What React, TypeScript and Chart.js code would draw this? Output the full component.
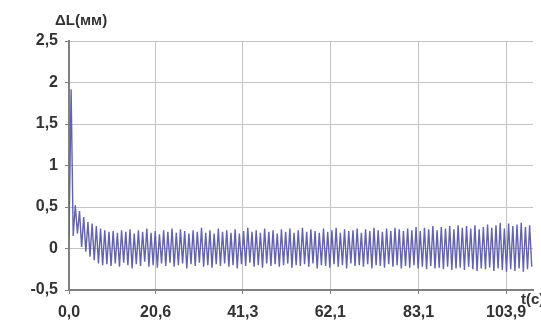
import React, { useEffect, useRef } from "react";
import { Chart, registerables } from "chart.js";

Chart.register(...registerables);

// Sampling step of the recorded signal (seconds)
const SAMPLE_STEP = 0.5;

// ΔL (mm) samples, one every SAMPLE_STEP seconds starting at t = 0
const DELTA_L: number[] = [
  0.12, 1.92, 0.15, 0.52, 0.18, 0.45, 0.02, 0.38, -0.04, 0.32, -0.10, 0.30, -0.14, 0.27, -0.18, 0.24, -0.20, 0.22, -0.19, 0.20,
  -0.21, 0.21, -0.18, 0.19, -0.22, 0.22, -0.17, 0.20, -0.20, 0.23, -0.24, 0.18, -0.19, 0.22, -0.21, 0.20, -0.16, 0.24, -0.22, 0.19,
  -0.20, 0.21, -0.23, 0.17, -0.18, 0.22, -0.21, 0.20, -0.17, 0.24, -0.22, 0.19, -0.20, 0.23, -0.18, 0.21, -0.24, 0.18, -0.19, 0.22,
  -0.21, 0.20, -0.17, 0.25, -0.22, 0.19, -0.20, 0.22, -0.23, 0.18, -0.19, 0.24, -0.21, 0.20, -0.18, 0.22, -0.22, 0.19, -0.20, 0.23,
  -0.24, 0.18, -0.19, 0.21, -0.21, 0.25, -0.17, 0.20, -0.22, 0.22, -0.20, 0.19, -0.23, 0.24, -0.18, 0.20, -0.21, 0.22, -0.19, 0.18,
  -0.22, 0.23, -0.20, 0.20, -0.18, 0.24, -0.23, 0.19, -0.20, 0.22, -0.21, 0.25, -0.19, 0.20, -0.22, 0.23, -0.18, 0.21, -0.24, 0.19,
  -0.20, 0.24, -0.21, 0.20, -0.23, 0.22, -0.19, 0.25, -0.22, 0.19, -0.20, 0.23, -0.24, 0.21, -0.18, 0.22, -0.21, 0.24, -0.20, 0.19,
  -0.22, 0.23, -0.19, 0.21, -0.24, 0.25, -0.20, 0.22, -0.21, 0.20, -0.23, 0.24, -0.19, 0.21, -0.22, 0.25, -0.20, 0.23, -0.24, 0.21,
  -0.21, 0.24, -0.23, 0.22, -0.20, 0.26, -0.24, 0.21, -0.22, 0.25, -0.25, 0.23, -0.21, 0.27, -0.24, 0.22, -0.23, 0.26, -0.25, 0.24,
  -0.22, 0.27, -0.26, 0.23, -0.24, 0.28, -0.23, 0.25, -0.26, 0.27, -0.22, 0.24, -0.25, 0.28, -0.27, 0.23, -0.24, 0.26, -0.25, 0.29,
  -0.23, 0.25, -0.27, 0.28, -0.24, 0.31, -0.26, 0.24, -0.28, 0.30, -0.25, 0.27, -0.27, 0.29, -0.24, 0.31, -0.28, 0.26, -0.25, 0.28,
  -0.22,
];

// Tick labels on the time axis (seconds)
const X_TICKS: number[] = [0.0, 20.6, 41.3, 62.1, 83.1, 103.9];
const X_MAX = 110.3;
const Y_MIN = -0.5;
const Y_MAX = 2.5;
const Y_STEP = 0.5;

const Y_TITLE = "ΔL(мм)";
const X_TITLE = "t(c)";

const FONT = "'Liberation Sans', Arial, sans-serif";

export default function App() {
  const canvasRef = useRef<HTMLCanvasElement | null>(null);

  useEffect(() => {
    document.body.style.margin = "0";
    const canvas = canvasRef.current;
    if (!canvas) return;

    const points = DELTA_L.map((v, i) => ({ x: i * SAMPLE_STEP, y: v }));

    const titlePlugin = {
      id: "axisTitles",
      afterDraw(chart: any) {
        const ctx = chart.ctx;
        ctx.save();
        ctx.fillStyle = "#333333";
        ctx.font = `bold 15px ${FONT}`;
        ctx.textBaseline = "middle";
        ctx.textAlign = "left";
        ctx.fillText(Y_TITLE, 55, 21);
        ctx.fillText(X_TITLE, 521, 300);
        ctx.restore();
      },
    };

    const chart = new Chart(canvas, {
      type: "line",
      data: {
        datasets: [
          {
            data: points,
            borderColor: "#6262ae",
            borderWidth: 1.4,
            pointRadius: 0,
            tension: 0,
            fill: false,
          },
        ],
      },
      options: {
        responsive: false,
        animation: false,
        events: [],
        layout: { padding: { left: 0, top: 41, right: 8, bottom: 0 } },
        plugins: { legend: { display: false }, tooltip: { enabled: false } },
        scales: {
          x: {
            type: "linear",
            min: 0,
            max: X_MAX,
            afterFit: (s: any) => {
              s.height = 40;
            },
            afterBuildTicks: (s: any) => {
              s.ticks = X_TICKS.map((v) => ({ value: v }));
            },
            grid: {
              color: "#c4c4c4",
              lineWidth: 1,
              tickColor: "#808080",
              tickLength: 4,
              drawTicks: true,
            },
            border: { color: "#808080", width: 2 },
            ticks: {
              autoSkip: false,
              maxRotation: 0,
              padding: 9,
              color: "#333333",
              font: { family: FONT, size: 16, weight: "bold" },
              callback: (v: any) => Number(v).toFixed(1).replace(".", ","),
            },
          },
          y: {
            min: Y_MIN,
            max: Y_MAX,
            afterFit: (s: any) => {
              s.width = 69;
            },
            grid: {
              color: "#c4c4c4",
              lineWidth: 1,
              tickColor: "#808080",
              tickLength: 4,
              drawTicks: true,
            },
            border: { color: "#808080", width: 2 },
            ticks: {
              stepSize: Y_STEP,
              padding: 7,
              color: "#333333",
              font: { family: FONT, size: 16, weight: "bold" },
              callback: (v: any) => String(Number(v)).replace(".", ","),
            },
          },
        },
      },
      plugins: [titlePlugin],
    } as any);

    return () => chart.destroy();
  }, []);

  return (
    <div style={{ width: 541, height: 330, background: "#ffffff" }}>
      <canvas ref={canvasRef} width={541} height={330} style={{ display: "block" }} />
    </div>
  );
}
